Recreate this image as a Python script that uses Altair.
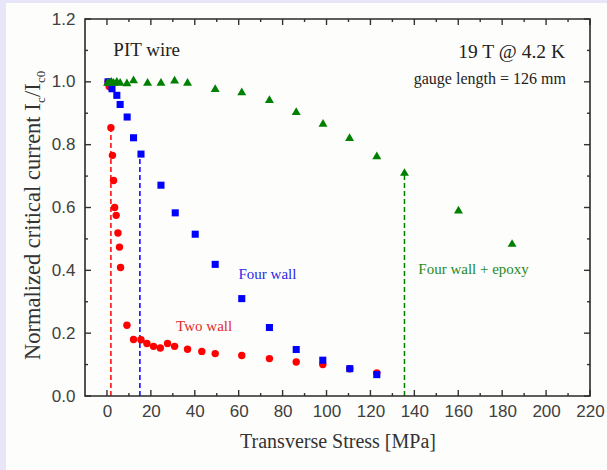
import altair as alt
import pandas as pd

# ---- measured data: normalized Ic vs transverse stress (19 T, 4.2 K) ----
two_wall_stress = [0.5, 1.0, 1.8, 2.5, 3.0, 3.5, 4.2, 5.0, 5.7, 6.2, 9.1, 12.1, 15.5,
                   18.2, 21.2, 24.3, 27.6, 30.8, 36.7, 43.2, 49.3, 61.4, 74.0, 86.2,
                   98.3, 110.6, 122.9]
two_wall_ic = [1.00, 0.985, 0.854, 0.766, 0.686, 0.600, 0.575, 0.519, 0.474, 0.409,
               0.225, 0.180, 0.179, 0.167, 0.158, 0.153, 0.167, 0.158, 0.149, 0.142,
               0.135, 0.129, 0.119, 0.108, 0.100, 0.087, 0.073]

four_wall_stress = [0.5, 2.3, 4.5, 6.0, 9.2, 12.1, 15.5, 24.6, 31.1, 40.2, 49.3, 61.4,
                    74.0, 86.2, 98.3, 110.6, 122.9]
four_wall_ic = [1.00, 0.978, 0.957, 0.928, 0.888, 0.822, 0.770, 0.671, 0.583, 0.515,
                0.419, 0.310, 0.218, 0.148, 0.114, 0.087, 0.068]

epoxy_stress = [0.3, 1.0, 2.0, 3.0, 4.5, 6.0, 9.1, 12.1, 18.5, 24.6, 30.8, 36.7, 49.3,
                61.4, 74.0, 86.2, 98.4, 110.5, 122.9, 135.5, 160.1, 184.5]
epoxy_ic = [1.00, 1.00, 1.003, 1.00, 1.003, 1.00, 0.998, 1.008, 1.00, 1.00, 1.007, 1.00,
            0.98, 0.97, 0.945, 0.907, 0.869, 0.824, 0.766, 0.713, 0.593, 0.487]

# irreversible-limit markers (dashed drop lines)
limit_stress = [1.8, 15.0, 135.5]
limit_ic = [0.854, 0.770, 0.713]
limit_sample = ["Two wall", "Four wall", "Four wall + epoxy"]

# axis ticks
x_major = list(range(0, 221, 20))
x_minor = list(range(10, 220, 20))
y_major = [0.0, 0.2, 0.4, 0.6, 0.8, 1.0, 1.2]
y_minor = [0.1, 0.3, 0.5, 0.7, 0.9, 1.1]

RED, BLUE, GREEN = "#ff0000", "#0000ff", "#008000"
W, H = 505, 377
PAD = {"left": 85, "top": 19, "right": 17, "bottom": 74}

x_scale = alt.Scale(domain=[-10, 220], nice=False, zero=False)
y_scale = alt.Scale(domain=[0, 1.2], nice=False, zero=True)
x_axis = alt.Axis(values=x_major, ticks=False, domain=False, grid=False, zindex=2,
                  labelFlush=False, labelOverlap=False,
                  labelFont="Liberation Sans", labelFontSize=17, labelColor="#404040",
                  labelPadding=7, title="Transverse Stress [MPa]",
                  titleFont="Liberation Serif", titleFontSize=20, titleFontWeight="normal",
                  titleColor="#333333", titlePadding=12)
y_axis = alt.Axis(values=y_major, format=".1f", ticks=False, domain=False, grid=False,
                  zindex=2, labelFlush=False, labelOverlap=False,
                  labelFont="Liberation Sans", labelFontSize=17,
                  labelColor="#404040", labelPadding=10, title=None)

X = alt.X("stress:Q", scale=x_scale, axis=x_axis)
Y = alt.Y("ic:Q", scale=y_scale, axis=y_axis)

one = pd.DataFrame({"k": [0]})

# white panel on the lavender page
panel = alt.Chart(one).mark_rect(color="#fdfdfb").encode(
    x=alt.value(-79), x2=alt.value(W + PAD["right"]),
    y=alt.value(-16), y2=alt.value(H + PAD["bottom"]))

def frame_df(vals, col):
    return pd.DataFrame({col: vals})

# inward ticks on all four sides
tick_col = "#333333"
ticks = []
for vals, ln in ((x_major, 6), (x_minor, 3)):
    d = frame_df(vals, "stress")
    ticks.append(alt.Chart(d).mark_rule(color=tick_col, strokeWidth=1.4).encode(
        x=X, y=alt.value(H), y2=alt.value(H - ln)))
    ticks.append(alt.Chart(d).mark_rule(color=tick_col, strokeWidth=1.4).encode(
        x=X, y=alt.value(0), y2=alt.value(ln)))
for vals, ln in ((y_major, 6), (y_minor, 3)):
    d = frame_df(vals, "ic")
    ticks.append(alt.Chart(d).mark_rule(color=tick_col, strokeWidth=1.4).encode(
        y=Y, x=alt.value(0), x2=alt.value(ln)))
    ticks.append(alt.Chart(d).mark_rule(color=tick_col, strokeWidth=1.4).encode(
        y=Y, x=alt.value(W), x2=alt.value(W - ln)))

frame = alt.Chart(one).mark_rect(filled=False, stroke="#2a2a2a", strokeWidth=1.6).encode(
    x=alt.value(0), x2=alt.value(W), y=alt.value(0), y2=alt.value(H))

# dashed drop lines
limits = pd.DataFrame({"stress": limit_stress, "ic": limit_ic, "zero": [0.0] * 3,
                       "sample": limit_sample})
drops = alt.Chart(limits).mark_rule(strokeDash=[5, 3], strokeWidth=1.5).encode(
    x=X, y=alt.Y("zero:Q", scale=y_scale, axis=y_axis), y2="ic:Q",
    color=alt.Color("sample:N", scale=alt.Scale(domain=limit_sample,
                                                range=[RED, BLUE, GREEN]), legend=None))

two = pd.DataFrame({"stress": two_wall_stress, "ic": two_wall_ic})
four = pd.DataFrame({"stress": four_wall_stress, "ic": four_wall_ic})
epoxy = pd.DataFrame({"stress": epoxy_stress, "ic": epoxy_ic})

pts_two = alt.Chart(two).mark_point(shape="circle", filled=True, size=55, color=RED,
                                    opacity=1).encode(x=X, y=Y)
pts_four = alt.Chart(four).mark_point(shape="square", filled=True, size=50, color=BLUE,
                                      opacity=1).encode(x=X, y=Y)
pts_epoxy = alt.Chart(epoxy).mark_point(shape="triangle-up", filled=True, size=80,
                                        color=GREEN, opacity=1).encode(x=X, y=Y)

def note(text, sx, sy, size, color="#222222", align="left"):
    return alt.Chart(one).mark_text(text=text, font="Liberation Serif", fontSize=size,
                                    color=color, align=align, baseline="middle").encode(
        x=alt.X(datum=sx, scale=x_scale, axis=x_axis),
        y=alt.Y(datum=sy, scale=y_scale, axis=y_axis))

notes = [
    note("PIT wire", 2.9, 1.10, 19),
    note("19 T @ 4.2 K", 208.6, 1.094, 19.5, align="right"),
    note("gauge length = 126 mm", 209.0, 1.01, 16, align="right"),
    note("Four wall", 59.9, 0.387, 15, color="#2a2ae6"),
    note("Two wall", 31.5, 0.223, 15, color="#e62a2a"),
    note("Four wall + epoxy", 141.8, 0.405, 15, color="#1f8a1f"),
]

# rotated y title with subscripts
def ytext(text, xpix, ypix, size):
    return alt.Chart(one).mark_text(text=text, font="Liberation Serif", fontSize=size,
                                    color="#333333", angle=270, align="left",
                                    baseline="alphabetic").encode(
        x=alt.value(xpix), y=alt.value(ypix))

ytitle_base = 360 - PAD["top"]
ytitle = [
    ytext("Normalized critical current I", -45.5, ytitle_base, 22.5),
    ytext("c", -40, ytitle_base - 257, 13),
    ytext("/I", -45.5, ytitle_base - 263, 22.5),
    ytext("c0", -40, ytitle_base - 277, 13),
]

chart = alt.layer(
    panel, *ticks, drops, pts_two, pts_four, pts_epoxy, frame, *notes, *ytitle
).properties(
    width=W, height=H, padding=PAD, autosize=alt.AutoSizeParams(type="none"),
    background="#e6e6f8"
).configure_view(strokeWidth=0)

chart.save("out.html", embed_options={"renderer": "svg", "actions": False})
